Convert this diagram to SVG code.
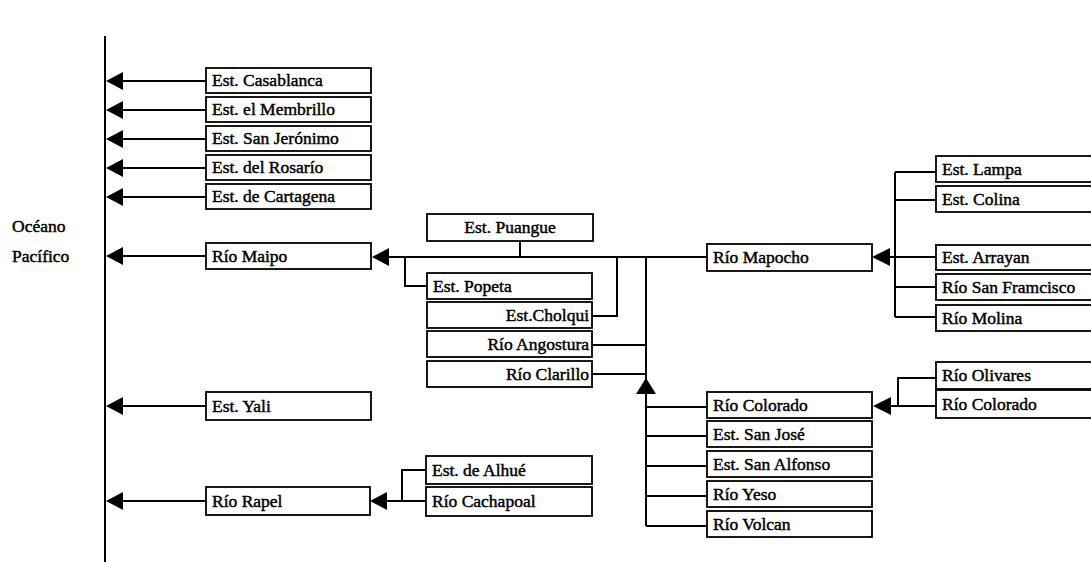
<svg xmlns="http://www.w3.org/2000/svg" width="1091" height="562" viewBox="0 0 1091 562">
<style>
.box{fill:#fff;stroke:#000;stroke-width:1.8}
.t{font-family:"Liberation Serif","Times New Roman",serif;font-size:17.5px;fill:#000;stroke:#000;stroke-width:0.45}
.e{text-anchor:end}
.c{fill:none;stroke:#000;stroke-width:2}
.ah{fill:#000}
</style>
<g id="connectors">
<line class="c" x1="105" y1="36" x2="105" y2="562"/>
<path class="c" d="M206 81H120M206 110H120M206 139H120M206 168H120M206 197H120M206 256H120M206 406H120M206 501H120"/>
<path class="ah" d="M106 81l17-9v18zM106 110l17-9v18zM106 139l17-9v18zM106 168l17-9v18zM106 197l17-9v18zM106 256l17-9v18zM106 406l17-9v18zM106 501l17-9v18z"/>
<path class="c" d="M707 257H385M520 241V257M405 257V286H427M592 316H617V257M592 345H646M592 374H646M646 257V526M646 407H707M646 436H707M646 466H707M646 496H707M646 526H707"/>
<path class="ah" d="M372 257l17-9v18zM646 378l10 16h-20z"/>
<path class="c" d="M888 257H936M895 172V317M895 172H936M895 200H936M895 287H936M895 317H936"/>
<path class="ah" d="M872 257l18-9v18z"/>
<path class="c" d="M888 406H936M898 406V378H936"/>
<path class="ah" d="M873 406l18-9v18z"/>
<path class="c" d="M385 501H426M402 501V470H426"/>
<path class="ah" d="M370 501l17-9v18z"/>
</g>
<g id="oceano"><text class="t" x="12" y="232">Océano</text><text class="t" x="12" y="262">Pacífico</text></g>
<g id="casablanca"><rect class="box" x="206" y="68" width="165" height="25"/><text class="t" x="212" y="86">Est. Casablanca</text></g>
<g id="membrillo"><rect class="box" x="206" y="97" width="165" height="25"/><text class="t" x="212" y="115">Est. el Membrillo</text></g>
<g id="sanjeronimo"><rect class="box" x="206" y="126" width="165" height="25"/><text class="t" x="212" y="144">Est. San Jerónimo</text></g>
<g id="rosario"><rect class="box" x="206" y="155" width="165" height="25"/><text class="t" x="212" y="173">Est. del Rosarío</text></g>
<g id="cartagena"><rect class="box" x="206" y="184" width="165" height="25"/><text class="t" x="212" y="202">Est. de Cartagena</text></g>
<g id="maipo"><rect class="box" x="206" y="243" width="165" height="26"/><text class="t" x="212" y="262">Río Maipo</text></g>
<g id="yali"><rect class="box" x="206" y="392" width="165" height="28"/><text class="t" x="212" y="412">Est. Yali</text></g>
<g id="rapel"><rect class="box" x="206" y="487" width="164" height="28"/><text class="t" x="212" y="507">Río Rapel</text></g>
<g id="puangue"><rect class="box" x="427" y="214" width="166" height="27"/><text class="t" x="510" y="233" text-anchor="middle">Est. Puangue</text></g>
<g id="popeta"><rect class="box" x="427" y="273" width="165" height="26"/><text class="t" x="433" y="292">Est. Popeta</text></g>
<g id="cholqui"><rect class="box" x="427" y="302" width="165" height="26"/><text class="t e" x="589" y="321">Est.Cholqui</text></g>
<g id="angostura"><rect class="box" x="427" y="331" width="165" height="26"/><text class="t e" x="589" y="350">Río Angostura</text></g>
<g id="clarillo"><rect class="box" x="427" y="361" width="165" height="26"/><text class="t e" x="589" y="380">Río Clarillo</text></g>
<g id="alhue"><rect class="box" x="426" y="456" width="166" height="28"/><text class="t" x="432" y="476">Est. de Alhué</text></g>
<g id="cachapoal"><rect class="box" x="426" y="487" width="166" height="29"/><text class="t" x="432" y="507">Río Cachapoal</text></g>
<g id="mapocho"><rect class="box" x="707" y="244" width="165" height="27"/><text class="t" x="713" y="263">Río Mapocho</text></g>
<g id="colorado1"><rect class="box" x="707" y="392" width="165" height="26"/><text class="t" x="713" y="411">Río Colorado</text></g>
<g id="sanjose"><rect class="box" x="707" y="421" width="165" height="26"/><text class="t" x="713" y="440">Est. San José</text></g>
<g id="sanalfonso"><rect class="box" x="707" y="451" width="165" height="26"/><text class="t" x="713" y="470">Est. San Alfonso</text></g>
<g id="yeso"><rect class="box" x="707" y="481" width="165" height="26"/><text class="t" x="713" y="500">Río Yeso</text></g>
<g id="volcan"><rect class="box" x="707" y="511" width="165" height="26"/><text class="t" x="713" y="530">Río Volcan</text></g>
<g id="lampa"><rect class="box" x="936" y="156" width="170" height="26"/><text class="t" x="942" y="175">Est. Lampa</text></g>
<g id="colina"><rect class="box" x="936" y="186" width="170" height="26"/><text class="t" x="942" y="205">Est. Colina</text></g>
<g id="arrayan"><rect class="box" x="936" y="245" width="170" height="25"/><text class="t" x="942" y="263">Est. Arrayan</text></g>
<g id="sanfrancisco"><rect class="box" x="936" y="274" width="170" height="26"/><text class="t" x="942" y="293">Río San Framcisco</text></g>
<g id="molina"><rect class="box" x="936" y="305" width="170" height="26"/><text class="t" x="942" y="324">Río Molina</text></g>
<g id="olivares"><rect class="box" x="936" y="362" width="170" height="27"/><text class="t" x="942" y="381">Río Olivares</text></g>
<g id="colorado2"><rect class="box" x="936" y="390" width="170" height="28"/><text class="t" x="942" y="410">Río Colorado</text></g>
</svg>
